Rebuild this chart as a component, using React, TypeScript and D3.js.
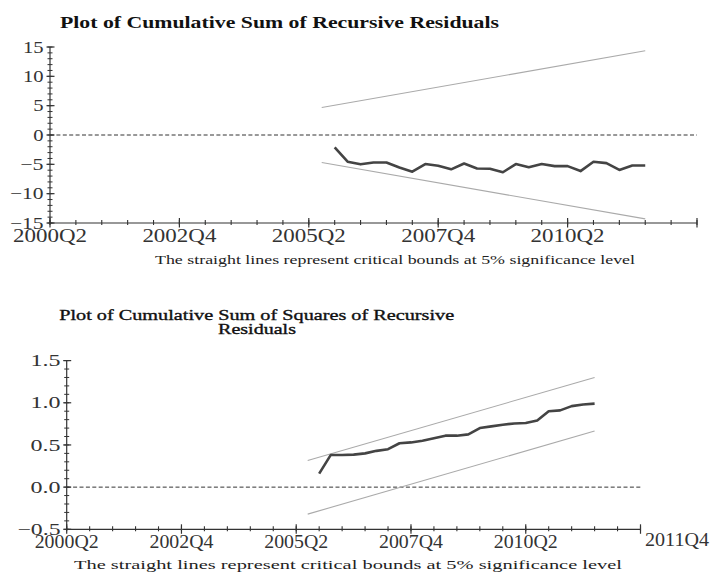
import React, { useEffect, useRef } from "react";
import * as d3 from "d3";

// quarters of the recursive residual series
const quarters = [
  "2005Q4", "2006Q1", "2006Q2", "2006Q3", "2006Q4", "2007Q1", "2007Q2",
  "2007Q3", "2007Q4", "2008Q1", "2008Q2", "2008Q3", "2008Q4", "2009Q1",
  "2009Q2", "2009Q3", "2009Q4", "2010Q1", "2010Q2", "2010Q3", "2010Q4",
  "2011Q1", "2011Q2", "2011Q3", "2011Q4",
];
const cusum = [
  -2.1, -4.55, -5.0, -4.7, -4.7, -5.55, -6.25, -4.95, -5.25, -5.85, -4.85,
  -5.7, -5.75, -6.35, -4.95, -5.5, -4.95, -5.3, -5.3, -6.15, -4.55, -4.8,
  -5.95, -5.2, -5.2,
];
const cusumSq = [
  0.16, 0.38, 0.38, 0.385, 0.4, 0.43, 0.45, 0.52, 0.53, 0.55, 0.58, 0.61,
  0.61, 0.625, 0.7, 0.72, 0.74, 0.755, 0.76, 0.79, 0.9, 0.91, 0.96, 0.98, 0.99,
];

// 5% critical bounds (straight lines, first and last quarter)
const boundQuarters = ["2005Q3", "2011Q4"];
const cusumUpper = [4.7, 14.35];
const cusumLower = [-4.7, -14.3];
const cusumSqUpper = [0.315, 1.3];
const cusumSqLower = [-0.32, 0.665];

const axisStart = "2000Q2";
const axisEnd = "2012Q4";
const xTickLabels = ["2000Q2", "2002Q4", "2005Q2", "2007Q4", "2010Q2"];
const cusumTicks = [-15, -10, -5, 0, 5, 10, 15];
const cusumSqTicks = [-0.5, 0, 0.5, 1, 1.5];

const caption = "The straight lines represent critical bounds at 5% significance level";

const qIndex = (q: string) => +q.slice(0, 4) * 4 + +q.slice(5) - 1;

const serif = "'Liberation Serif', 'DejaVu Serif', serif";

function labelWidth(s: string, digit: number, minus: number) {
  let w = 0;
  for (const ch of s) w += ch === "\u2212" ? minus : digit;
  return w;
}

function drawPanel(svg: any, cfg: any) {
  const g = svg.append("g");
  const x = d3.scaleLinear().domain([qIndex(axisStart), qIndex(axisEnd)]).range(cfg.xRange);
  const y = d3.scaleLinear().domain(cfg.yDomain).range(cfg.yRange);
  const ax = cfg.xRange[0];
  const ay = cfg.yRange[0];
  const axisColor = "#333";

  // title
  cfg.titles.forEach((t: any) => {
    g.append("text")
      .attr("x", t.cx)
      .attr("y", t.y)
      .attr("text-anchor", "middle")
      .attr("font-family", serif)
      .attr("font-size", t.fs)
      .attr("font-weight", t.weight)
      .attr("fill", "#111")
      .attr("stroke", t.weight === "bold" ? "none" : "#111")
      .attr("stroke-width", 0.35)
      .attr("textLength", t.width)
      .attr("lengthAdjust", "spacingAndGlyphs")
      .text(t.text);
  });

  // zero line
  g.append("line")
    .attr("x1", ax).attr("x2", cfg.xRange[1])
    .attr("y1", y(0)).attr("y2", y(0))
    .attr("stroke", "#333").attr("stroke-width", 1)
    .attr("stroke-dasharray", "4,2.4");

  // axes
  g.append("line")
    .attr("x1", ax).attr("x2", ax)
    .attr("y1", cfg.yRange[0]).attr("y2", cfg.yRange[1])
    .attr("stroke", axisColor).attr("stroke-width", 1.2);
  g.append("line")
    .attr("x1", cfg.xRange[0]).attr("x2", cfg.xRange[1])
    .attr("y1", ay).attr("y2", ay)
    .attr("stroke", axisColor).attr("stroke-width", 1.2);

  const [y0, y1] = cfg.yDomain;
  const minorY = d3.range(Math.round((y1 - y0) / cfg.minorStep) + 1).map((i) => y0 + i * cfg.minorStep);
  g.selectAll(".ymin").data(minorY).join("line")
    .attr("x1", ax - 2.5).attr("x2", ax + 2.5)
    .attr("y1", (d: number) => y(d)).attr("y2", (d: number) => y(d))
    .attr("stroke", axisColor).attr("stroke-width", 1);
  g.selectAll(".ymaj").data(cfg.yTicks).join("line")
    .attr("x1", ax - 3.5).attr("x2", ax + 4.5)
    .attr("y1", (d: number) => y(d)).attr("y2", (d: number) => y(d))
    .attr("stroke", axisColor).attr("stroke-width", 1.2);

  g.selectAll(".ylab").data(cfg.yTicks).join("text")
    .attr("x", cfg.yLabelRight)
    .attr("y", (d: number) => y(d) + cfg.yLabelFs * 0.33)
    .attr("text-anchor", "end")
    .attr("font-family", serif)
    .attr("font-size", cfg.yLabelFs)
    .attr("fill", "#333")
    .attr("textLength", (d: number) => labelWidth(cfg.yFormat(d), cfg.digitW, cfg.minusW))
    .attr("lengthAdjust", "spacingAndGlyphs")
    .text((d: number) => cfg.yFormat(d));

  const xs = qIndex(axisStart);
  const xe = qIndex(axisEnd);
  const minorX = d3.range(xs, xe + 1, 2);
  const majorX = d3.range(xs, xe + 1, 10);
  g.selectAll(".xmin").data(minorX).join("line")
    .attr("x1", (d: number) => x(d)).attr("x2", (d: number) => x(d))
    .attr("y1", ay - 3).attr("y2", ay + 2)
    .attr("stroke", axisColor).attr("stroke-width", 1.1);
  g.selectAll(".xmaj").data(majorX).join("line")
    .attr("x1", (d: number) => x(d)).attr("x2", (d: number) => x(d))
    .attr("y1", ay - 5).attr("y2", ay + 4.5)
    .attr("stroke", axisColor).attr("stroke-width", 1.2);

  g.selectAll(".xlab").data(xTickLabels).join("text")
    .attr("x", (d: string) => x(qIndex(d)))
    .attr("y", cfg.xLabelY)
    .attr("text-anchor", "middle")
    .attr("font-family", serif)
    .attr("font-size", cfg.xLabelFs)
    .attr("fill", "#333")
    .attr("textLength", cfg.xLabelW)
    .attr("lengthAdjust", "spacingAndGlyphs")
    .text((d: string) => d);

  if (cfg.extraLabel) {
    g.append("text")
      .attr("x", cfg.extraLabel.x)
      .attr("y", cfg.extraLabel.y)
      .attr("font-family", serif)
      .attr("font-size", cfg.xLabelFs)
      .attr("fill", "#333")
      .attr("textLength", cfg.xLabelW)
      .attr("lengthAdjust", "spacingAndGlyphs")
      .text(cfg.extraLabel.text);
  }

  // bounds
  const boundLine = d3.line<number>()
    .x((_d, i) => x(qIndex(boundQuarters[i])))
    .y((d) => y(d));
  [cfg.upper, cfg.lower].forEach((b: number[]) => {
    g.append("path")
      .attr("d", boundLine(b))
      .attr("fill", "none")
      .attr("stroke", "#aaa")
      .attr("stroke-width", 1.1);
  });

  // series
  const line = d3.line<number>()
    .x((_d, i) => x(qIndex(quarters[i])))
    .y((d) => y(d));
  g.append("path")
    .attr("d", line(cfg.values))
    .attr("fill", "none")
    .attr("stroke", "#444")
    .attr("stroke-width", 2.6)
    .attr("stroke-linejoin", "round");

  g.append("text")
    .attr("x", cfg.caption.cx)
    .attr("y", cfg.caption.y)
    .attr("text-anchor", "middle")
    .attr("font-family", serif)
    .attr("font-size", cfg.caption.fs)
    .attr("fill", "#222")
    .attr("textLength", cfg.caption.width)
    .attr("lengthAdjust", "spacingAndGlyphs")
    .text(caption);
}

const minusFmt = (f: (n: number) => string) => (d: number) =>
  (d < 0 ? "\u2212" : "") + f(Math.abs(d));

export default function App() {
  const ref = useRef<SVGSVGElement>(null);

  useEffect(() => {
    const svg = d3.select(ref.current);
    svg.selectAll("*").remove();

    drawPanel(svg, {
      xRange: [50, 697],
      yRange: [223, 47],
      yDomain: [-15, 15],
      yTicks: cusumTicks,
      minorStep: 1,
      yFormat: minusFmt((n) => String(n)),
      yLabelRight: 43.5,
      yLabelFs: 17,
      digitW: 10.3,
      minusW: 13,
      xLabelY: 242,
      xLabelFs: 19,
      xLabelW: 74,
      titles: [
        { text: "Plot of Cumulative Sum of Recursive Residuals", cx: 279.5, y: 27.5, fs: 16, width: 439, weight: "bold" },
      ],
      caption: { cx: 395, y: 264, fs: 11.5, width: 480 },
      upper: cusumUpper,
      lower: cusumLower,
      values: cusum,
    });

    drawPanel(svg, {
      xRange: [66.7, 640.5],
      yRange: [529.3, 360.6],
      yDomain: [-0.5, 1.5],
      yTicks: cusumSqTicks,
      minorStep: 0.1,
      yFormat: minusFmt(d3.format(".1f")),
      yLabelRight: 60.5,
      yLabelFs: 17,
      digitW: 10,
      minusW: 13,
      xLabelY: 548,
      xLabelFs: 18,
      xLabelW: 64,
      extraLabel: { text: "2011Q4", x: 645, y: 546 },
      titles: [
        { text: "Plot of Cumulative Sum of Squares of Recursive", cx: 256.7, y: 320, fs: 15, width: 395, weight: "normal" },
        { text: "Residuals", cx: 257, y: 334, fs: 15, width: 78, weight: "normal" },
      ],
      caption: { cx: 348, y: 569, fs: 13, width: 548 },
      upper: cusumSqUpper,
      lower: cusumSqLower,
      values: cusumSq,
    });
  }, []);

  return (
    <svg
      ref={ref}
      width={710}
      height={572}
      style={{ position: "absolute", left: 0, top: 0, background: "#fff" }}
    />
  );
}
